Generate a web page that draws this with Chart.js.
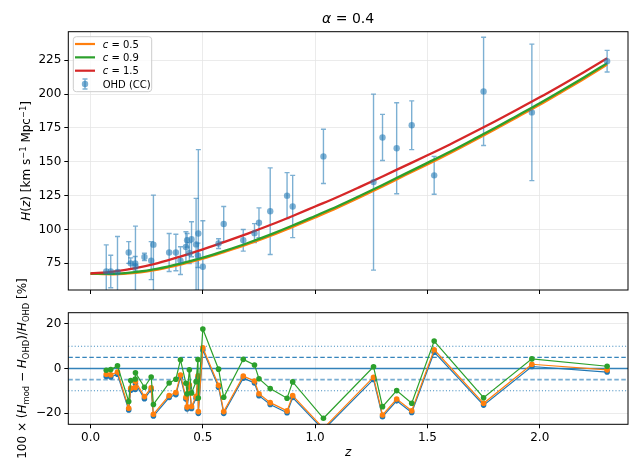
<!DOCTYPE html>
<html><head><meta charset="utf-8">
<script src="https://cdn.jsdelivr.net/npm/chart.js@4.4.1/dist/chart.umd.min.js"></script>
<style>
html,body{margin:0;padding:0;background:#fff;}
#wrap{position:relative;width:632px;height:462px;overflow:hidden;background:#fff;}
canvas{position:absolute;left:0;top:0;}
</style></head><body>
<div id="wrap"><canvas id="bot" width="632" height="462"></canvas><canvas id="top" width="632" height="462"></canvas></div>
<script>
// ---------- data ----------
const modelZ   = [0,0.1,0.2,0.3,0.4,0.5,0.6,0.7,0.8,0.9,1.0,1.1,1.2,1.3,1.4,1.5,1.6,1.7,1.8,1.9,2.0,2.1,2.2,2.3];
const modelC05 = [67.3,66.9,67.9,70.4,74.0,78.4,83.6,89.1,95.2,101.9,108.9,116.1,123.8,131.8,140.0,148.0,156.3,165.0,173.9,183.0,192.1,201.8,211.6,221.8];
const modelC09 = [67.4,67.3,68.6,71.1,74.8,79.2,84.4,90.0,96.2,102.9,110.0,117.2,124.9,132.9,141.1,149.2,157.4,166.1,174.9,184.1,193.3,202.9,212.7,222.9];
const modelC15 = [67.5,68.9,71.5,75.2,80.0,85.3,91.0,97.0,103.3,110.0,117.0,124.0,131.5,139.2,147.0,154.8,162.8,171.2,179.8,188.6,197.6,207.0,216.6,226.5];

const obsZ   = [0.07,0.09,0.12,0.17,0.179,0.199,0.2,0.24,0.27,0.28,0.35,0.38,0.4004,0.4247,0.43,0.44,0.4497,0.47,0.4783,0.48,0.5,0.57,0.593,0.68,0.73,0.75,0.8,0.875,0.9,1.037,1.26,1.3,1.363,1.43,1.53,1.75,1.965,2.3];
const obsH   = [69,69,68.6,83,75,75,72.9,79.7,77,88.8,83,83,77,87.1,92,82.6,92.8,89,80.9,97,72.5,89.6,104,92,97.3,105,113.5,125,117,154,135,168,160,177,140,202,186.5,224.3];
const obsErr = [19.6,12,26.2,8,4,5,29.6,2.7,14,36.6,14,13.5,10.2,11.2,5,7.8,12.9,34,9,62,34,3.6,13,8,7,11,32,17,23,20,65,17,33.6,18,14,40,50.4,8];

const resC05 = [-3.6,-3.8,-2.6,-18.6,-9.7,-9.4,-6.8,-13.5,-9.5,-21.3,-13.0,-11.7,-3.8,-13.7,-18.1,-8.3,-17.9,-13.3,-4.2,-20.1,8.3,-8.4,-20.1,-4.3,-6.5,-12.2,-16.1,-19.8,-13.0,-27.5,-4.9,-21.6,-14.5,-19.7,7.3,-16.4,0.9,-1.6];
const resC09 = [-2.6,-2.8,-1.6,-17.8,-8.8,-8.5,-5.8,-12.6,-8.6,-20.5,-12.1,-10.8,-2.9,-12.9,-17.2,-7.4,-17.0,-12.4,-3.3,-19.3,9.3,-7.5,-19.3,-3.4,-5.6,-11.3,-15.3,-19.0,-12.1,-26.8,-3.9,-20.8,-13.7,-18.9,8.4,-15.6,1.9,-0.6];
const resC15 = [-0.8,-0.5,1.2,-14.8,-5.4,-4.7,-1.9,-8.4,-3.8,-16.1,-6.5,-4.8,3.9,-6.6,-11.3,-0.6,-11.0,-5.9,4.0,-13.2,17.7,-0.3,-12.9,4.1,1.6,-4.6,-9.0,-13.3,-6.0,-22.3,0.8,-17.1,-9.9,-15.6,12.3,-13.1,4.3,1.0];

const refLevels  = [0, 5, -5, 10, -10];
const xTicks     = [0, 0.5, 1.0, 1.5, 2.0];
const yTicksTop  = [75, 100, 125, 150, 175, 200, 225];
const yTicksBot  = [-20, 0, 20];
const legendLabels = ['0.5', '0.9', '1.5'];

// ---------- styling ----------
const FAM = '"DejaVu Sans", sans-serif';
Chart.defaults.font.family = FAM;
Chart.defaults.color = '#000';
const C_BLUE = '#1f77b4', C_ORANGE = '#ff7f0e', C_GREEN = '#2ca02c', C_RED = '#d62728';
const OHD_COL = 'rgba(31,119,180,0.58)';
const X_MIN = -0.099, X_MAX = 2.393;
const pts = (xs, ys) => xs.map((x, i) => ({x: x, y: ys[i]}));
const fmtMinus = v => (v < 0 ? '\u2212' + Math.abs(v) : String(v));

function drawRich(ctx, segs, x, y, rot, size, align) {
  ctx.save();
  ctx.translate(x, y); ctx.rotate(rot);
  const fontFor = s => (s.it ? 'italic ' : '') + ((s.sub || s.sup) ? size * 0.7 : size) + 'px ' + FAM;
  let w = 0;
  segs.forEach(s => { ctx.font = fontFor(s); s.w = ctx.measureText(s.t).width; w += s.w; });
  let cx = align === 'left' ? 0 : -w / 2;
  ctx.textBaseline = 'alphabetic'; ctx.textAlign = 'left'; ctx.fillStyle = '#000';
  const base = size * 0.36;
  segs.forEach(s => {
    ctx.font = fontFor(s);
    const dy = s.sub ? size * 0.22 : (s.sup ? -size * 0.4 : 0);
    ctx.fillText(s.t, cx, base + dy);
    cx += s.w;
  });
  ctx.restore();
}

const gridOpts = {color: '#e6e6e6', lineWidth: 0.8, tickColor: '#000', tickLength: 4, tickWidth: 1};

const frame = {id: 'frame', afterDatasetsDraw(chart) {
  const {ctx, chartArea: ca} = chart;
  ctx.save(); ctx.strokeStyle = '#000'; ctx.lineWidth = 1;
  ctx.strokeRect(ca.left, ca.top, ca.right - ca.left, ca.bottom - ca.top);
  ctx.restore();
}};

const errorBars = {id: 'errbars', beforeDatasetsDraw(chart) {
  const {ctx, chartArea: ca, scales: {x, y}} = chart;
  ctx.save();
  ctx.beginPath(); ctx.rect(ca.left, ca.top, ca.right - ca.left, ca.bottom - ca.top); ctx.clip();
  ctx.strokeStyle = OHD_COL; ctx.lineWidth = 1.4;
  obsZ.forEach((z, i) => {
    const px = x.getPixelForValue(z);
    const y1 = y.getPixelForValue(obsH[i] - obsErr[i]);
    const y2 = y.getPixelForValue(obsH[i] + obsErr[i]);
    ctx.beginPath();
    ctx.moveTo(px, y1); ctx.lineTo(px, y2);
    ctx.moveTo(px - 2.5, y1); ctx.lineTo(px + 2.5, y1);
    ctx.moveTo(px - 2.5, y2); ctx.lineTo(px + 2.5, y2);
    ctx.stroke();
  });
  ctx.restore();
}};

const topDecor = {id: 'topDecor', afterDraw(chart) {
  const {ctx, chartArea: ca} = chart;
  drawRich(ctx, [{t: '\u03b1', it: true}, {t: ' = 0.4'}], (ca.left + ca.right) / 2, 18, 0, 14);
  drawRich(ctx, [{t: 'H', it: true}, {t: '('}, {t: 'z', it: true}, {t: ') [km s'}, {t: '\u22121', sup: true},
                 {t: ' Mpc'}, {t: '\u22121', sup: true}, {t: ']'}], 26, (ca.top + ca.bottom) / 2, -Math.PI / 2, 12);
  const lx = ca.left + 5, ly = ca.top + 5, lw = 78.4, lh = 55;
  ctx.save();
  ctx.beginPath();
  if (ctx.roundRect) ctx.roundRect(lx, ly, lw, lh, 3); else ctx.rect(lx, ly, lw, lh);
  ctx.fillStyle = 'rgba(255,255,255,0.8)'; ctx.fill();
  ctx.strokeStyle = '#cccccc'; ctx.lineWidth = 1; ctx.stroke();
  const cols = [C_ORANGE, C_GREEN, C_RED];
  for (let i = 0; i < 4; i++) {
    const ry = ca.top + 12.3 + i * 13.35;
    if (i < 3) {
      ctx.strokeStyle = cols[i]; ctx.lineWidth = 2.2;
      ctx.beginPath(); ctx.moveTo(ca.left + 6.7, ry); ctx.lineTo(ca.left + 26.7, ry); ctx.stroke();
      drawRich(ctx, [{t: 'c', it: true}, {t: ' = ' + legendLabels[i]}], ca.left + 34.4, ry, 0, 10, 'left');
    } else {
      const mx = ca.left + 16.7;
      ctx.strokeStyle = OHD_COL; ctx.lineWidth = 1.4;
      ctx.beginPath();
      ctx.moveTo(mx, ry - 5); ctx.lineTo(mx, ry + 5);
      ctx.moveTo(mx - 2.5, ry - 5); ctx.lineTo(mx + 2.5, ry - 5);
      ctx.moveTo(mx - 2.5, ry + 5); ctx.lineTo(mx + 2.5, ry + 5);
      ctx.stroke();
      ctx.fillStyle = OHD_COL; ctx.beginPath(); ctx.arc(mx, ry, 3.2, 0, Math.PI * 2); ctx.fill();
      drawRich(ctx, [{t: 'OHD (CC)'}], ca.left + 34.4, ry, 0, 10, 'left');
    }
  }
  ctx.restore();
}};

const botDecor = {id: 'botDecor', afterDraw(chart) {
  const {ctx, chartArea: ca} = chart;
  drawRich(ctx, [{t: '100 \u00d7 ('}, {t: 'H', it: true}, {t: 'mod', sub: true}, {t: ' \u2212 '}, {t: 'H', it: true},
                 {t: 'OHD', sub: true}, {t: ')/'}, {t: 'H', it: true}, {t: 'OHD', sub: true}, {t: ' [%]'}],
           22, (ca.top + ca.bottom) / 2, -Math.PI / 2, 12);
}};

// ---------- top chart ----------
const lineDs = (label, ys, col, order) => ({
  label: label, data: pts(modelZ, ys), borderColor: col, backgroundColor: col, borderWidth: 2.3,
  pointRadius: 0, cubicInterpolationMode: 'monotone', fill: false, order: order
});

new Chart(document.getElementById('top'), {
  type: 'line',
  data: {datasets: [
    {label: 'OHD (CC)', data: pts(obsZ, obsH), showLine: false, pointRadius: 3.2,
     pointBackgroundColor: OHD_COL, pointBorderWidth: 0, order: 0},
    lineDs('c = 1.5', modelC15, C_RED, 1),
    lineDs('c = 0.9', modelC09, C_GREEN, 2),
    lineDs('c = 0.5', modelC05, C_ORANGE, 3)
  ]},
  options: {
    responsive: false, animation: false, devicePixelRatio: 1,
    layout: {padding: {left: 0, right: 3, top: 31.7, bottom: 0}},
    plugins: {legend: {display: false}, tooltip: {enabled: false}, title: {display: false}},
    scales: {
      x: {type: 'linear', min: X_MIN, max: X_MAX,
          afterBuildTicks: s => { s.ticks = xTicks.map(v => ({value: v})); },
          afterFit: s => { s.height = 172; },
          ticks: {display: false}, grid: gridOpts, border: {display: false}},
      y: {type: 'linear', min: 55.3, max: 246.1,
          afterBuildTicks: s => { s.ticks = yTicksTop.map(v => ({value: v})); },
          afterFit: s => { s.width = 68.3; },
          ticks: {font: {size: 12}, color: '#000', padding: 3, autoSkip: false},
          grid: gridOpts, border: {display: false}}
    }
  },
  plugins: [errorBars, frame, topDecor]
});

// ---------- bottom chart ----------
const resDs = (label, ys, col, order) => ({
  label: label, data: pts(obsZ, ys), borderColor: col, backgroundColor: col, borderWidth: 1.2,
  pointRadius: 2.8, pointBorderWidth: 0, pointBackgroundColor: col, tension: 0, order: order
});
const refDs = refLevels.map((v, i) => ({
  label: 'ref ' + v, data: [{x: X_MIN, y: v}, {x: X_MAX, y: v}],
  borderColor: v === 0 ? 'rgba(31,119,180,0.9)' : (v === -5 ? 'rgba(31,119,180,0.6)' : 'rgba(31,119,180,0.9)'),
  borderWidth: v === 0 ? 1.3 : (v === -5 ? 1.6 : 1.1),
  borderDash: Math.abs(v) === 5 ? [4.5, 2.5] : (Math.abs(v) === 10 ? [1, 2.2] : []),
  pointRadius: 0, order: 10 + i
}));

new Chart(document.getElementById('bot'), {
  type: 'line',
  data: {datasets: [
    resDs('c = 1.5', resC15, C_GREEN, 0),
    resDs('c = 0.9', resC09, C_ORANGE, 1),
    resDs('c = 0.5', resC05, C_BLUE, 2)
  ].concat(refDs)},
  options: {
    responsive: false, animation: false, devicePixelRatio: 1,
    layout: {padding: {left: 0, right: 3, top: 312.7, bottom: 0}},
    plugins: {legend: {display: false}, tooltip: {enabled: false}},
    scales: {
      x: {type: 'linear', min: X_MIN, max: X_MAX,
          afterBuildTicks: s => { s.ticks = xTicks.map(v => ({value: v})); },
          afterFit: s => { s.height = 37.7; },
          ticks: {font: {size: 12}, color: '#000', padding: 2, maxRotation: 0, autoSkip: false,
                  callback: v => Number(v).toFixed(1)},
          title: {display: true, text: 'z', color: '#000', font: {size: 12, style: 'italic'}, padding: {top: 0, bottom: 2}},
          grid: gridOpts, border: {display: false}},
      y: {type: 'linear', min: -25, max: 25,
          afterBuildTicks: s => { s.ticks = yTicksBot.map(v => ({value: v})); },
          afterFit: s => { s.width = 68.3; },
          ticks: {font: {size: 12}, color: '#000', padding: 3, autoSkip: false, callback: v => fmtMinus(v)},
          grid: gridOpts, border: {display: false}}
    }
  },
  plugins: [frame, botDecor]
});
</script></body></html>
